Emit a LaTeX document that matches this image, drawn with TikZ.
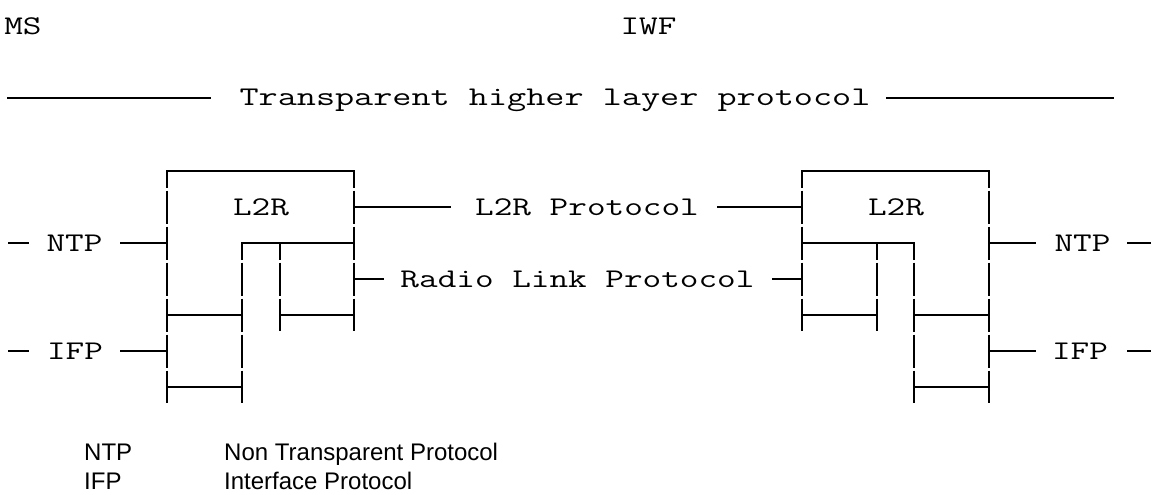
\documentclass[tikz,border=0pt]{standalone}
\usepackage{fontspec}
\newfontfamily\arialfont{Liberation Sans}
\newcommand{\monotxt}[2][1.34]{\scalebox{#1}[1]{\ttfamily\fontsize{27}{27}\selectfont #2}}
\begin{document}
\begin{tikzpicture}[x=1pt,y=-1pt,
  hln/.style={line width=2.4pt, line cap=rect},
  vln/.style={line width=2.4pt, dash pattern=on 33pt off 3pt, dash phase=16.5pt},
  mono/.style={inner sep=0pt, anchor=base},
  leg/.style={font=\arialfont\fontsize{24}{24}\selectfont, inner sep=0pt, anchor=base west}]
\useasboundingbox (0,0) rectangle (1157,495);

% header texts
\node[mono] (ms)  at (23,35) {\monotxt{MS}};
\node[mono] (iwf) at (648.5,35) {\monotxt{IWF}};
\node[mono] (thlp) at (555,106) {\monotxt[1.375]{Transparent higher layer protocol}};
\coordinate (t1) at (8,98);   \coordinate (t2) at (210,98);
\coordinate (t3) at (887,98); \coordinate (t4) at (1113,98);
\draw[hln] (t1) -- (t2);
\draw[hln] (t3) -- (t4);

% ---------- left box (MS) ----------
\coordinate (a00) at (167,171); \coordinate (a30) at (354,171);
\coordinate (a0e) at (167,403); \coordinate (a3e) at (354,331);
\coordinate (a12) at (242,243); \coordinate (a22) at (280,243); \coordinate (a32) at (354,243);
\coordinate (a1e) at (242,403); \coordinate (a2e) at (280,331);
\coordinate (a04) at (167,315); \coordinate (a14) at (242,315);
\coordinate (a24) at (280,315); \coordinate (a34) at (354,315);
\coordinate (a06) at (167,387); \coordinate (a16) at (242,387);
\draw[hln] (a00) -- (a30);
\draw[vln] (a00) -- (a0e);
\draw[vln] (a30) -- (a3e);
\draw[vln] (a12) -- (a1e);
\draw[vln] (a22) -- (a2e);
\draw[hln] (a12) -- (a32);
\draw[hln] (a04) -- (a14);
\draw[hln] (a24) -- (a34);
\draw[hln] (a06) -- (a16);
\node[mono] (l2rA) at (261,215.5) {\monotxt{L2R}};

% ---------- right box (IWF) ----------
\coordinate (b00) at (802,171); \coordinate (b30) at (989,171);
\coordinate (b0e) at (802,331); \coordinate (b3e) at (989,403);
\coordinate (b02) at (802,243); \coordinate (b12) at (877,243); \coordinate (b22) at (914,243);
\coordinate (b1e) at (877,331); \coordinate (b2e) at (914,403);
\coordinate (b04) at (802,315); \coordinate (b14) at (877,315);
\coordinate (b24) at (914,315); \coordinate (b34) at (989,315);
\coordinate (b26) at (914,387); \coordinate (b36) at (989,387);
\draw[hln] (b00) -- (b30);
\draw[vln] (b00) -- (b0e);
\draw[vln] (b30) -- (b3e);
\draw[vln] (b12) -- (b1e);
\draw[vln] (b22) -- (b2e);
\draw[hln] (b02) -- (b22);
\draw[hln] (b04) -- (b14);
\draw[hln] (b24) -- (b34);
\draw[hln] (b26) -- (b36);
\node[mono] (l2rB) at (896,215.5) {\monotxt{L2R}};

% ---------- peer protocols ----------
\node[mono] (l2rp) at (587,215.5) {\monotxt{L2R Protocol}};
\coordinate (p1) at (354,207); \coordinate (p2) at (450,207);
\coordinate (p3) at (718,207); \coordinate (p4) at (802,207);
\draw[hln] (p1) -- (p2);
\draw[hln] (p3) -- (p4);
\node[mono] (rlp) at (577.5,287.5) {\monotxt{Radio Link Protocol}};
\coordinate (r1) at (354,279); \coordinate (r2) at (383,279);
\coordinate (r3) at (773,279); \coordinate (r4) at (802,279);
\draw[hln] (r1) -- (r2);
\draw[hln] (r3) -- (r4);

% ---------- left NTP / IFP ----------
\node[mono] (ntpL) at (74.5,251.5) {\monotxt{NTP}};
\coordinate (n1) at (9,243); \coordinate (n2) at (28,243);
\coordinate (n3) at (121,243); \coordinate (n4) at (167,243);
\draw[hln] (n1) -- (n2);
\draw[hln] (n3) -- (n4);
\node[mono] (ifpL) at (75,359.5) {\monotxt{IFP}};
\coordinate (i1) at (9,351); \coordinate (i2) at (28,351);
\coordinate (i3) at (121,351); \coordinate (i4) at (167,351);
\draw[hln] (i1) -- (i2);
\draw[hln] (i3) -- (i4);

% ---------- right NTP / IFP ----------
\node[mono] (ntpR) at (1082.5,251.5) {\monotxt{NTP}};
\coordinate (m1) at (989,243); \coordinate (m2) at (1035,243);
\coordinate (m3) at (1128,243); \coordinate (m4) at (1150,243);
\draw[hln] (m1) -- (m2);
\draw[hln] (m3) -- (m4);
\node[mono] (ifpR) at (1080,359.5) {\monotxt{IFP}};
\coordinate (j1) at (989,351); \coordinate (j2) at (1035,351);
\coordinate (j3) at (1128,351); \coordinate (j4) at (1150,351);
\draw[hln] (j1) -- (j2);
\draw[hln] (j3) -- (j4);

% ---------- legend ----------
\node[leg] (lgn1) at (84,460) {NTP};
\node[leg] (lgd1) at (224,460) {Non Transparent Protocol};
\node[leg] (lgn2) at (84,489) {IFP};
\node[leg] (lgd2) at (224,489) {Interface Protocol};
\end{tikzpicture}
\end{document}
